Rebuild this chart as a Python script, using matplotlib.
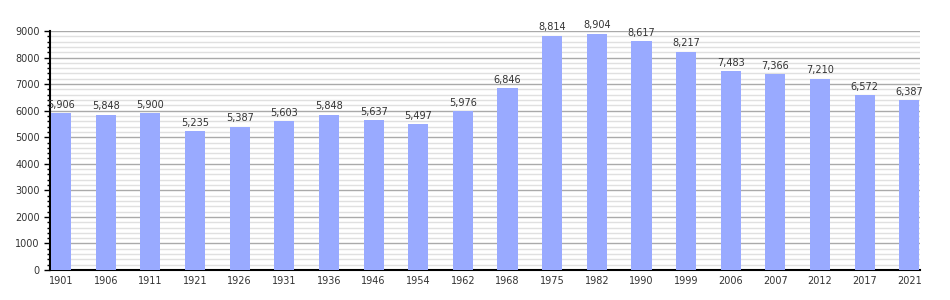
import matplotlib
matplotlib.use("Agg")
import matplotlib.pyplot as plt
from matplotlib.ticker import MultipleLocator

years = ["1901", "1906", "1911", "1921", "1926", "1931", "1936", "1946", "1954", "1962",
         "1968", "1975", "1982", "1990", "1999", "2006", "2007", "2012", "2017", "2021"]
population = [5906, 5848, 5900, 5235, 5387, 5603, 5848, 5637, 5497, 5976,
              6846, 8814, 8904, 8617, 8217, 7483, 7366, 7210, 6572, 6387]

fig = plt.figure(figsize=(9.5, 3), dpi=100)
ax = fig.add_axes([50 / 950, 30 / 300, 870 / 950, 239 / 300])

x = range(len(years))
ax.bar(x, population, width=0.45, color="#99aaff", zorder=3)

for i, v in enumerate(population):
    ax.text(i, v + 130, f"{v:,}", ha="center", va="bottom", fontsize=7, color="#333333", zorder=4)

ax.set_xlim(-0.25, len(years) - 1 + 0.24)
ax.set_ylim(0, 9000)
ax.set_xticks(list(x))
ax.set_xticklabels(years, fontsize=7, color="#333333")
ax.yaxis.set_major_locator(MultipleLocator(1000))
ax.yaxis.set_minor_locator(MultipleLocator(200))
ax.tick_params(axis="y", labelsize=7, labelcolor="#333333", length=4, width=1)
ax.tick_params(axis="y", which="minor", length=2.5, width=1)
ax.tick_params(axis="x", length=0, pad=4)

ax.grid(axis="y", which="major", color="#aaaaaa", linewidth=1, zorder=0)
ax.grid(axis="y", which="minor", color="#e0e0e0", linewidth=1, zorder=0)

for side in ["top", "right"]:
    ax.spines[side].set_visible(False)
ax.spines["left"].set_linewidth(1.5)
ax.spines["bottom"].set_linewidth(1.5)

fig.savefig("out.png", dpi=100)
